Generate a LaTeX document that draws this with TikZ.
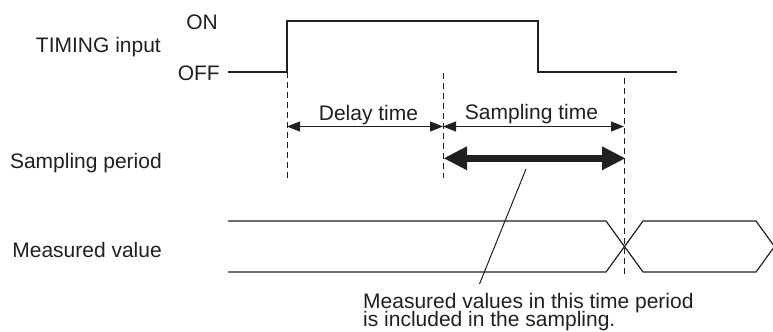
\documentclass[tikz,border=0pt]{standalone}
\usepackage{fontspec}
\setmainfont{Liberation Sans}
\usetikzlibrary{arrows.meta}
\definecolor{ink}{HTML}{231F20}
\begin{document}
\begin{tikzpicture}[x=1bp,y=-1bp,
  lbl/.style={inner sep=0pt, font=\fontsize{21bp}{21bp}\selectfont, text=ink},
  wire/.style={line width=1.2bp, draw=ink},
  leader/.style={line width=1bp, draw=ink},
  guide/.style={line width=1bp, draw=ink, dash pattern=on 6bp off 4bp},
  dimarrow/.style={line width=1bp, draw=ink, {Triangle[length=13bp,width=10bp]}-{Triangle[length=13bp,width=10bp]}},
  bigarrow/.style={line width=7bp, draw=ink, {Triangle[length=23bp,width=24bp,line width=0pt]}-{Triangle[length=23bp,width=24bp,line width=0pt]}},
]
\useasboundingbox (0,0) rectangle (773,331);
% labels
\node[lbl, anchor=base east] (on) at (218,29.3) {ON};
\node[lbl, anchor=base east] (off) at (220,80) {OFF};
\node[lbl, anchor=base east] (timing) at (161,52.7) {TIMING input};
\node[lbl, anchor=base east] (sp) at (162,168.3) {Sampling period};
\node[lbl, anchor=base east] (mv) at (162,257.3) {Measured value};
\node[lbl, anchor=base] (delay) at (368.5,120) {Delay time};
\node[lbl, anchor=base] (samp) at (531.5,119.3) {Sampling time};
\node[lbl, anchor=base west] (note1) at (363,308.3) {Measured values in this time period};
\node[lbl, anchor=base west] (note2) at (363,326.7) {is included in the sampling.};
% timing signal
\coordinate (s0) at (228,72);
\coordinate (rise) at (287,72);
\coordinate (riseTop) at (287,21);
\coordinate (fallTop) at (538,21);
\coordinate (fall) at (538,72);
\coordinate (s1) at (677,72);
\draw[wire] (s0) -- (rise) -- (riseTop) -- (fallTop) -- (fall) -- (s1);
% guides
\coordinate (g1a) at (287,72);  \coordinate (g1b) at (287,178);
\coordinate (g2a) at (443,73);  \coordinate (g2b) at (443,178);
\coordinate (g3a) at (624,78);  \coordinate (g3b) at (624,274);
\draw[guide] (g1a) -- (g1b);
\draw[guide] (g2a) -- (g2b);
\draw[guide] (g3a) -- (g3b);
% dimension arrows
\coordinate (d1) at (287,126.5);
\coordinate (d2) at (443,126.5);
\coordinate (d3) at (624,126.5);
\draw[dimarrow] (d1) -- (d2);
\draw[dimarrow] (d2) -- (d3);
% sampling period arrow
\coordinate (b1) at (444,158.3);
\coordinate (b2) at (625,158.3);
\draw[bigarrow] (b1) -- (b2);
% measured value
\coordinate (m0t) at (228,221);  \coordinate (m0b) at (228,272);
\coordinate (m1t) at (606,221);  \coordinate (m1b) at (606,272);
\coordinate (m2t) at (643,221);  \coordinate (m2b) at (643,272);
\coordinate (m3t) at (756,221);  \coordinate (m3b) at (756,272);
\coordinate (mend) at (774.5,246.5);
\draw[wire] (m0t) -- (m1t) -- (m2b) -- (m3b) -- (mend);
\draw[wire] (m0b) -- (m1b) -- (m2t) -- (m3t) -- (mend);
% leader
\coordinate (la) at (526,169);
\coordinate (lb) at (479.5,284);
\draw[leader] (la) -- (lb);
\end{tikzpicture}
\end{document}
